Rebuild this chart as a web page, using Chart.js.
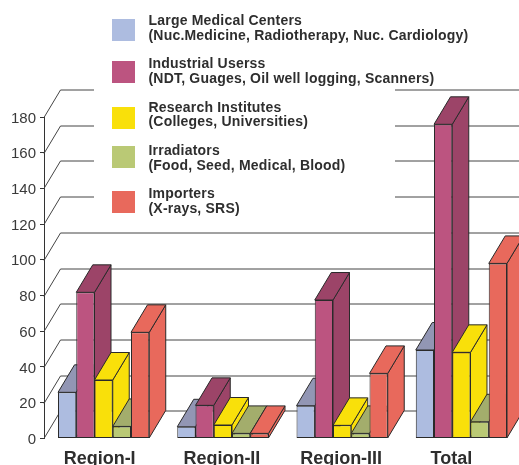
<!DOCTYPE html>
<html><head><meta charset="utf-8">
<script src="https://cdn.jsdelivr.net/npm/chart.js@4"></script>
<style>html,body{margin:0;padding:0;background:#fff;overflow:hidden}#w{position:relative;width:521px;height:465px}</style>
</head><body><div id="w"><canvas id="c"></canvas></div>
<script>
const categories = ['Region-I','Region-II','Region-III','Total'];
const largeMedical = [25.8, 6.5, 18.3, 49.5];
const industrial   = [81.8, 18.5, 77.5, 175.9];
const research     = [32.7, 7.5, 7.3, 48.2];
const irradiators  = [6.7, 2.8, 2.8, 9.3];
const importers    = [59.4, 2.8, 36.4, 98];
const legendLines = [
  ['Large Medical Centers','(Nuc.Medicine, Radiotherapy, Nuc. Cardiology)'],
  ['Industrial Userss','(NDT, Guages, Oil well logging, Scanners)'],
  ['Research Institutes','(Colleges, Universities)'],
  ['Irradiators','(Food, Seed, Medical, Blood)'],
  ['Importers','(X-rays, SRS)']
];
const frontColors = ['#adbce0','#bc5480','#f9e00a','#bac975','#e8695c'];
const sideColors  = ['#9296b4','#9c4468','#f9e00a','#bac975','#e8695c'];
const topColors   = ['#9296b4','#9c4468','#f9e00a','#a3ad6c','#e8695c'];
const legendBoxY  = [19,61,107,146,191];
const legendTextY = [[21.5,36],[64.5,79.5],[108.5,122.5],[151.5,166.5],[194.5,209.5]];
const xLabelShift = [-4,-1,-1,-10];
const DX = 16.5, DY = 27.5, INK = '#2a2a2a';
const FONT = '"Liberation Sans", Arial, sans-serif';

function poly(ctx, pts, fill){
  ctx.beginPath();
  pts.forEach((p,i)=> i?ctx.lineTo(p[0],p[1]):ctx.moveTo(p[0],p[1]));
  ctx.closePath();
  ctx.fillStyle = fill; ctx.fill();
  ctx.lineWidth = 1; ctx.strokeStyle = INK; ctx.stroke();
}
const depth = {
  id:'depth',
  beforeDraw(chart){
    if(chart.$shifted) return;
    chart.$shifted = true;
    chart.scales.x.getLabelItems().forEach((it,i)=>{ it.options.translation[0]+=xLabelShift[i]; });
    chart.scales.y.getLabelItems().forEach(it=>{ it.options.translation[1]+=1.5; });
  },
  beforeDatasetsDraw(chart){
    const {ctx, scales:{y}} = chart;
    const left = y.right;
    ctx.save();
    ctx.strokeStyle = '#444'; ctx.lineWidth = 1;
    y.ticks.forEach(t=>{
      const py = Math.round(y.getPixelForValue(t.value)) + .5;
      ctx.beginPath();
      ctx.moveTo(left,py);
      ctx.lineTo(left+DX,py-DY);
      ctx.lineTo(chart.width,py-DY);
      ctx.stroke();
    });
    // white legend panel hides the back wall
    ctx.fillStyle = '#fff';
    ctx.fillRect(94,0,301,216);
    // legend
    ctx.font = 'bold 14px '+FONT;
    ctx.letterSpacing = '0.2px';
    ctx.textAlign='left'; ctx.textBaseline='middle';
    legendLines.forEach((lines,i)=>{
      ctx.fillStyle = frontColors[i];
      ctx.fillRect(112,legendBoxY[i],23,22);
      ctx.fillStyle = '#2e2e2e';
      lines.forEach((s,j)=>ctx.fillText(s,148.5,legendTextY[i][j]));
    });
    ctx.letterSpacing = '0px';
    ctx.restore();
    // left-to-right painting: each dataset covers the side face of the one before it
    chart.getSortedVisibleDatasetMetas().forEach(meta=>{
      ctx.save();
      meta.data.forEach(b=>{
        const l=b.x-b.width/2, r=b.x+b.width/2, t=b.y, base=b.base;
        poly(ctx,[[r,t],[r+DX,t-DY],[r+DX,base-DY],[r,base]],sideColors[meta.index]);
        poly(ctx,[[l,t],[l+DX,t-DY],[r+DX,t-DY],[r,t]],topColors[meta.index]);
      });
      ctx.restore();
      meta.controller.draw();
    });
  },
  beforeDatasetDraw(){ return false; }
};
const series = [largeMedical,industrial,research,irradiators,importers];
new Chart(document.getElementById('c'),{
  type:'bar',
  data:{labels:categories,datasets:series.map((d,i)=>({
    label:legendLines[i][0],data:d,backgroundColor:frontColors[i],
    borderColor:INK,borderWidth:1,borderSkipped:false
  }))},
  options:{
    responsive:true,maintainAspectRatio:false,animation:false,
    layout:{padding:{top:117,left:0,right:0,bottom:0}},
    datasets:{bar:{barPercentage:1,categoryPercentage:.765}},
    plugins:{legend:{display:false},tooltip:{enabled:false},title:{display:false}},
    scales:{
      x:{
        afterFit(s){s.height=26.6;},
        grid:{display:false},border:{display:false},
        ticks:{color:'#2e2e2e',font:{family:FONT,size:18,weight:'bold'},padding:2,autoSkip:false,maxRotation:0}
      },
      y:{
        min:0,max:180,
        afterFit(s){s.width=44;},
        grid:{drawOnChartArea:false,drawTicks:true,tickLength:4,color:'#333'},
        border:{display:true,color:'#333',width:1},
        ticks:{stepSize:20,color:'#3a3a3a',font:{family:FONT,size:15},padding:4}
      }
    }
  },
  plugins:[depth]
});
</script></body></html>
